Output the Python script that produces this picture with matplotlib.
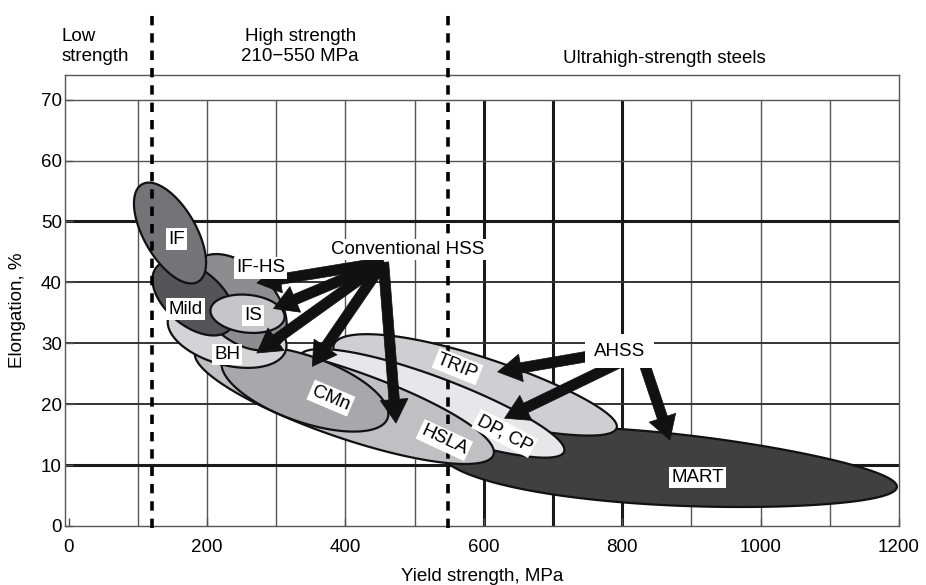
import numpy as np
import matplotlib
matplotlib.use("Agg")
import matplotlib.pyplot as plt
from matplotlib.patches import Polygon

plt.rcParams["font.family"] = ["Liberation Sans", "DejaVu Sans"]
plt.rcParams["font.size"] = 13.5

# Steel grade regions (drawing order, back to front).
# Each region is an ellipse given by the two ends of its long axis
# (yield strength MPa, elongation %) and its half thickness in elongation %.
grades = ["MART", "TRIP", "DP, CP", "HSLA", "CMn", "BH", "IF-HS", "Mild", "IF", "IS"]
ys_low = [538, 383, 334, 183, 222, 144, 186, 127, 106, 205]
el_low = [12.2, 29.7, 27.9, 28.6, 27.3, 34.2, 43.5, 42.5, 56.1, 35.5]
ys_high = [1197, 792, 716, 614, 461, 314, 305, 234, 187, 312]
el_high = [6.4, 16.1, 12.2, 11.7, 17.7, 28.9, 30.0, 32.4, 40.1, 34.2]
half_el = [5.9, 5.0, 4.5, 5.6, 5.4, 5.1, 5.8, 4.6, 4.3, 3.1]
# how much each region narrows towards its high-strength end
taper = [0.18, 0.12, 0.05, 0.0, 0.0, 0.0, 0.0, 0.0, 0.0, 0.0]
fills = ["#404041", "#cfcfd1", "#e7e7e9", "#c0c0c3", "#a8a8aa",
         "#d4d4d6", "#8d8d8f", "#555557", "#747478", "#c6c6c8"]

# Grade labels
label_text = ["IF", "IF-HS", "Mild", "IS", "BH", "CMn", "HSLA", "TRIP", "DP, CP", "MART"]
label_x = [156, 277, 169, 266, 229, 379, 543, 562, 630, 909]
label_y = [47.1, 42.4, 35.6, 34.6, 28.2, 21.0, 14.1, 26.2, 15.2, 8.0]
label_rot = [0, 0, 0, 0, 0, -23, -25, -22, -28, 0]

# Group call-outs and the grades they point at
conv_label = "Conventional HSS"
conv_pos = (490, 45.4)
conv_tail = (455, 43.3)
conv_tips_x = [272, 296, 272, 352, 473]
conv_tips_y = [39.9, 35.7, 28.4, 26.2, 16.9]

ahss_label = "AHSS"
ahss_pos = (796, 28.7)
ahss_tails_x = [748, 799, 830]
ahss_tails_y = [27.8, 27.0, 27.3]
ahss_tips_x = [620, 630, 869]
ahss_tips_y = [25.3, 17.7, 14.1]

# Strength class boundaries
class_bounds = [120, 548]

x_ticks = [0, 200, 400, 600, 800, 1000, 1200]
y_ticks = [0, 10, 20, 30, 40, 50, 60, 70]

fig = plt.figure(figsize=(9.26, 5.85), dpi=100)
ax = fig.add_axes([64.5 / 926, 59 / 585, 834.5 / 926, 451.3 / 585])
ax.set_xlim(-6, 1200)
ax.set_ylim(0, 74.1)

for s in ax.spines.values():
    s.set_color("#555555")
    s.set_linewidth(1.0)

# grid: vertical lines stop at 70 %, a few lines are heavier
for gx in range(100, 1200, 100):
    heavy = gx in (600, 700, 800)
    ax.plot([gx, gx], [0, 70], color="#1a1a1a" if heavy else "#555555",
            lw=2.2 if heavy else 1.0, zorder=1, solid_capstyle="butt")
for gy in range(10, 80, 10):
    if gy in (10, 50):
        c, w = "#1a1a1a", 2.2
    elif gy in (20, 30, 40):
        c, w = "#333333", 1.4
    else:
        c, w = "#555555", 1.0
    ax.plot([-6, 1200], [gy, gy], color=c, lw=w, zorder=1, solid_capstyle="butt")

ax.set_xticks(x_ticks)
ax.set_yticks(y_ticks)
ax.tick_params(direction="in", length=6, width=1.0, color="#555555",
               labelsize=13.5, labelcolor="black")
ax.tick_params(axis="x", pad=9)
ax.tick_params(axis="y", pad=2)

ax.set_xlabel("Yield strength, MPa", fontsize=13.5)
ax.set_ylabel("Elongation, %", fontsize=13.5)
ax.xaxis.set_label_coords(0.5, -0.093)
ax.yaxis.set_label_coords(-0.046, 0.478)

fig.canvas.draw()
T = ax.transData


def region_outline(x0, y0, x1, y1, half, k, n=300):
    p0, p1 = T.transform([(x0, y0), (x1, y1)])
    c = (p0 + p1) / 2
    d = p1 - p0
    a = np.hypot(*d) / 2
    u = d / (2 * a)
    v = np.array([-u[1], u[0]])
    b = abs(T.transform((0, half))[1] - T.transform((0, 0))[1])
    t = np.linspace(0, 2 * np.pi, n, endpoint=False)
    w = b * np.sin(t) * (1 - k * np.cos(t))
    pts = c + np.outer(a * np.cos(t), u) + np.outer(w, v)
    return T.inverted().transform(pts)


for i, g in enumerate(grades):
    pts = region_outline(ys_low[i], el_low[i], ys_high[i], el_high[i],
                         half_el[i], taper[i])
    ax.add_patch(Polygon(pts, closed=True, facecolor=fills[i], edgecolor="#111111",
                         lw=1.6, zorder=3 + i * 0.01))

# strength class boundaries, running up into the header area
for bx in class_bounds:
    ax.plot([bx, bx], [-0.3, 84.3], color="black", lw=2.6,
            linestyle=(0, (2.6, 2.2)), clip_on=False, zorder=5)

arrow_style = "simple,head_length=1.7,head_width=2.0,tail_width=0.75"
for tx, ty in zip(conv_tips_x, conv_tips_y):
    ax.annotate("", xy=(tx, ty), xytext=conv_tail,
                arrowprops=dict(arrowstyle=arrow_style, mutation_scale=10,
                                fc="#111111", ec="#111111", lw=0.5,
                                shrinkA=0, shrinkB=0), zorder=6)
for sx, sy, tx, ty in zip(ahss_tails_x, ahss_tails_y, ahss_tips_x, ahss_tips_y):
    ax.annotate("", xy=(tx, ty), xytext=(sx, sy),
                arrowprops=dict(arrowstyle=arrow_style, mutation_scale=10,
                                fc="#111111", ec="#111111", lw=0.5,
                                shrinkA=0, shrinkB=0), zorder=6)

box = dict(boxstyle="square,pad=0.12", fc="white", ec="none")
for t, x, y, r in zip(label_text, label_x, label_y, label_rot):
    ax.text(x, y, t, ha="center", va="center", rotation=r,
            rotation_mode="anchor", bbox=box, zorder=8)

ax.text(*conv_pos, conv_label, ha="center", va="center",
        bbox=dict(boxstyle="square,pad=0.12", fc="white", ec="none"), zorder=8)
ax.text(*ahss_pos, ahss_label, ha="center", va="center",
        bbox=dict(boxstyle="square,pad=0.45", fc="white", ec="none"), zorder=8)

# header describing the strength classes
ax.text(-9.7, 78.7, "Low\nstrength", ha="left", va="center", linespacing=1.25)
ax.text(334.6, 78.7, "High strength\n210\u2212550 MPa", ha="center", va="center",
        linespacing=1.25)
ax.text(860.6, 76.8, "Ultrahigh-strength steels", ha="center", va="center")

fig.savefig("out.png", dpi=100)
